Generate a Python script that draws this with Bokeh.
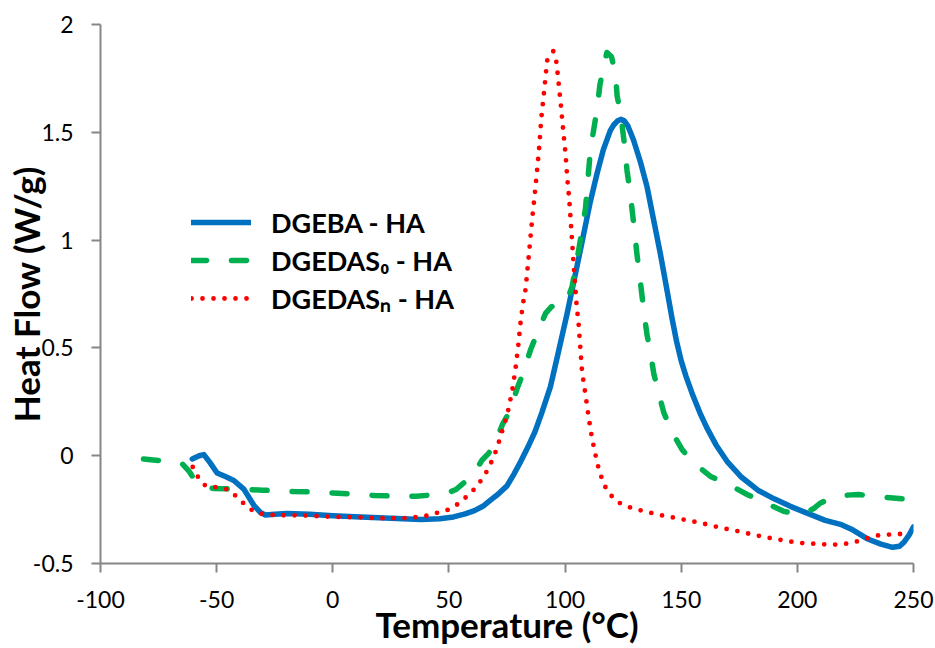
from bokeh.plotting import figure
from bokeh.models import Range1d, FixedTicker, Legend, LegendItem
from bokeh.embed import file_html
from bokeh.resources import INLINE

# ---- data ----
dgeba_x = [-60.5, -57.5, -55.5, -53, -49.8, -46, -42.6, -38.3, -34, -31, -29, -25, -19.6, -10, 0, 12, 25, 38,
           46, 52, 57, 61, 65, 68, 71, 75, 78, 81, 84, 87, 90, 93.7, 97, 100.9, 104, 107, 110.9, 113.8, 116.5,
           119.5, 121, 122.5, 124, 125.5, 127, 129.5, 132.5, 135.3, 138, 141, 144, 146, 148, 150, 152, 155,
           158, 161, 165, 170, 176, 183, 190, 197, 205, 212, 219, 224, 230, 236, 241, 244, 246, 248, 250]
dgeba_y = [-0.015, 0.0, 0.005, -0.03, -0.08, -0.098, -0.115, -0.155, -0.23, -0.265, -0.275, -0.272, -0.268,
           -0.272, -0.278, -0.284, -0.29, -0.296, -0.292, -0.284, -0.27, -0.255, -0.232, -0.205, -0.18, -0.14,
           -0.085, -0.025, 0.04, 0.11, 0.2, 0.32, 0.475, 0.66, 0.82, 0.975, 1.18, 1.31, 1.42, 1.509, 1.535,
           1.552, 1.56, 1.553, 1.53, 1.463, 1.36, 1.247, 1.1, 0.938, 0.76, 0.64, 0.53, 0.44, 0.37, 0.28, 0.2,
           0.13, 0.05, -0.03, -0.1, -0.16, -0.2, -0.235, -0.27, -0.3, -0.32, -0.345, -0.385, -0.41, -0.425,
           -0.42, -0.4, -0.37, -0.33]

dgedas0_x = [-81.5, -72, -65, -62, -59, -56, -51, -42, -30, -17, -8, 0, 10, 18, 26, 36, 44, 50, 53, 56, 59,
             62, 64.3, 67, 69.3, 73, 76.5, 79.4, 82.2, 85.1, 88, 91.6, 94, 97.3, 99, 101, 103, 105, 107.3,
             108.8, 110.9, 112.4, 113.8, 115, 116.5, 118, 120, 121.7, 122.4, 124, 125.5, 126.7, 128, 129.5,
             131, 132.5, 134, 135.3, 136.8, 138.2, 140.3, 142.5, 146, 150.4, 155.4, 162.6, 170.5, 178.4,
             186.3, 194.1, 200, 203, 207, 210, 214, 217.8, 226.4, 235, 245.8]
dgedas0_y = [-0.015, -0.026, -0.035, -0.07, -0.12, -0.145, -0.152, -0.155, -0.16, -0.166, -0.168, -0.173,
             -0.178, -0.185, -0.187, -0.188, -0.181, -0.17, -0.157, -0.13, -0.103, -0.06, -0.02, 0.01, 0.045,
             0.144, 0.213, 0.313, 0.39, 0.49, 0.568, 0.66, 0.69, 0.707, 0.705, 0.725, 0.784, 0.9, 1.046,
             1.148, 1.417, 1.517, 1.61, 1.72, 1.8, 1.87, 1.85, 1.77, 1.67, 1.58, 1.45, 1.32, 1.22, 1.08, 0.93,
             0.8, 0.66, 0.56, 0.475, 0.38, 0.29, 0.2, 0.11, 0.028, -0.034, -0.096, -0.134, -0.18, -0.219,
             -0.258, -0.27, -0.268, -0.245, -0.219, -0.2, -0.185, -0.18, -0.191, -0.2]

dgedasn_x = [-60.3, -58, -54.8, -50, -45.1, -41.2, -37.6, -33.7, -29, -24, -14, -4, 0.4, 10.5, 20.5, 30, 35.6,
             40.6, 44.9, 49.9, 54.2, 57.8, 61.4, 64.3, 66.9, 68.9, 70.8, 72.2, 75.1, 77.2, 78.6, 79.8, 80.8,
             81.8, 83, 84.4, 85.8, 87.3, 88.7, 89.8, 91.3, 92.3, 94.9, 96.3, 97.3, 98.3, 99.2, 100.2, 100.9,
             101.8, 102.8, 103.8, 104.9, 105.9, 106.6, 107.3, 108.8, 110.2, 111.7, 112.8, 113.8, 115.2, 116.7,
             119.5, 122.8, 127.4, 132.3, 137, 141.8, 146.7, 151.5, 156.6, 161.2, 166.2, 170.9, 175.8, 180.8,
             185.5, 190.4, 195.3, 200.3, 205.2, 210.1, 215, 220, 225, 229.7, 234.6, 239.3, 244.4]
dgedasn_y = [-0.052, -0.099, -0.14, -0.147, -0.157, -0.191, -0.23, -0.261, -0.273, -0.276, -0.277, -0.281,
             -0.284, -0.285, -0.29, -0.29, -0.285, -0.278, -0.265, -0.25, -0.222, -0.188, -0.15, -0.108, -0.062,
             -0.014, 0.037, 0.09, 0.19, 0.298, 0.398, 0.506, 0.614, 0.7, 0.772, 0.93, 1.093, 1.251, 1.409,
             1.568, 1.725, 1.833, 1.876, 1.824, 1.72, 1.614, 1.509, 1.4, 1.293, 1.188, 1.031, 0.869, 0.707,
             0.602, 0.495, 0.39, 0.282, 0.175, 0.074, 0.02, -0.034, -0.085, -0.134, -0.181, -0.216, -0.238,
             -0.253, -0.265, -0.277, -0.287, -0.297, -0.308, -0.319, -0.332, -0.343, -0.353, -0.366, -0.376,
             -0.386, -0.395, -0.404, -0.407, -0.41, -0.413, -0.41, -0.4, -0.384, -0.37, -0.366, -0.363]

series_labels = ["DGEBA - HA", "DGEDAS\u2080 - HA", "DGEDAS\u2099 - HA"]
x_ticks = [-100, -50, 0, 50, 100, 150, 200, 250]
x_tick_labels = ["-100", "-50", "0", "50", "100", "150", "200", "250"]
y_ticks = [-0.5, 0, 0.5, 1, 1.5, 2]
y_tick_labels = ["-0.5", "0", "0.5", "1", "1.5", "2"]
x_title = "Temperature (°C)"
y_title = "Heat Flow (W/g)"

FONT = "Lato"
AXIS_COLOR = "#868686"
W, H = 935, 648
BL, BR, BT, BB = 100, 22, 24, 85

p = figure(width=W, height=H, output_backend="svg", toolbar_location=None,
           x_range=Range1d(-100, 250), y_range=Range1d(-0.5, 2),
           min_border_left=BL, min_border_right=BR, min_border_top=BT, min_border_bottom=BB)
p.xgrid.visible = False
p.ygrid.visible = False
p.outline_line_color = None
p.background_fill_color = "white"

for ax, ticks, labels in ((p.xaxis[0], x_ticks, x_tick_labels), (p.yaxis[0], y_ticks, y_tick_labels)):
    ax.ticker = FixedTicker(ticks=ticks)
    ax.major_label_overrides = {t: s for t, s in zip(ticks, labels)}
    ax.axis_line_color = AXIS_COLOR
    ax.axis_line_width = 2
    ax.major_tick_line_color = AXIS_COLOR
    ax.major_tick_line_width = 2
    ax.major_tick_out = 9
    ax.major_tick_in = 0
    ax.minor_tick_line_color = None
    ax.major_label_text_font = FONT
    ax.major_label_text_font_size = "23px"
    ax.major_label_text_color = "black"
    ax.major_label_standoff = 18
    ax.axis_label_text_font = FONT
    ax.axis_label_text_font_style = "bold"
    ax.axis_label_text_font_size = "35px"
    ax.axis_label_text_color = "black"
    ax.axis_label_text_line_height = 0.9

p.xaxis.axis_label = x_title
p.yaxis.axis_label = y_title
p.xaxis.axis_label_standoff = -8
p.yaxis.axis_label_standoff = -17

r1 = p.line(dgeba_x, dgeba_y, line_color="#0070C0", line_width=5.5, line_cap="round", line_join="round")
r2 = p.line(dgedas0_x, dgedas0_y, line_color="#00B050", line_width=5.5, line_dash="15 25",
            line_cap="round", line_join="round")
r3 = p.line(dgedasn_x, dgedasn_y, line_color="#FF0000", line_width=4.8, line_dash="0 11",
            line_cap="round", line_join="round")

legend = Legend(items=[LegendItem(label=series_labels[0], renderers=[r1]),
                       LegendItem(label=series_labels[1], renderers=[r2]),
                       LegendItem(label=series_labels[2], renderers=[r3])],
                location=(91, 246))
legend.label_text_font = FONT
legend.label_text_font_style = "bold"
legend.label_text_font_size = "27px"
legend.label_text_color = "black"
legend.glyph_width = 60
legend.glyph_height = 38
legend.label_height = 38
legend.spacing = 0
legend.padding = 0
legend.margin = 0
legend.label_standoff = 20
legend.border_line_color = None
legend.background_fill_alpha = 0
p.add_layout(legend)

open("out.html", "w").write(file_html(p, INLINE))
